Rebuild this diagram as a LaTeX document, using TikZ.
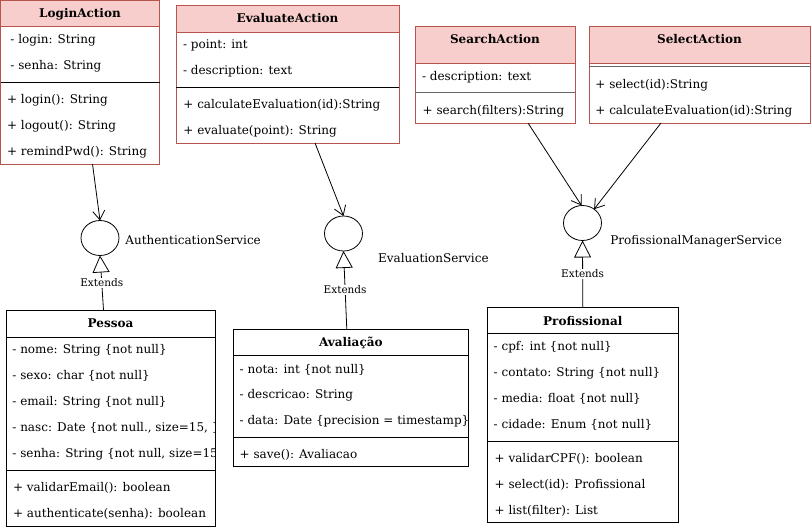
\documentclass[tikz,border=0pt]{standalone}
\usepackage{fontspec}
\setmainfont{DejaVu Serif}
\usetikzlibrary{arrows.meta,shapes.geometric}
\definecolor{headfill}{HTML}{F8CECC}
\definecolor{headline}{HTML}{B85450}
\definecolor{sepgray}{HTML}{666666}

\begin{document}
\begin{tikzpicture}[x=1pt, y=-1pt, line width=0.8pt,
    pinkclass/.style={draw=headline, fill=white, rectangle, inner sep=0pt, outer sep=0pt, anchor=north west},
    plainclass/.style={draw=black, fill=white, rectangle, inner sep=0pt, outer sep=0pt, anchor=north west},
    pinkhead/.style={draw=headline, fill=headfill, rectangle, inner sep=0pt, outer sep=0pt, anchor=north},
    plainhead/.style={draw=black, rectangle, inner sep=0pt, outer sep=0pt, anchor=north},
    title/.style={inner sep=0pt, text height=9pt, text depth=0pt, font=\fontsize{12}{14}\selectfont\bfseries},
    member/.style={anchor=west, inner sep=0pt, text height=8.5pt, text depth=0pt, font=\fontsize{12}{14}\selectfont},
    service/.style={draw, ellipse, minimum width=38pt, minimum height=35pt, inner sep=0pt, outer sep=0pt},
    svclabel/.style={anchor=west, inner sep=0pt, text height=8.5pt, text depth=0pt, font=\fontsize{12}{14}\selectfont},
    dep/.style={-{Straight Barb[length=9pt, width=12pt]}},
    ext/.style={-{Triangle[open, length=17pt, width=17pt]}},
    extlabel/.style={fill=white, inner sep=1pt, text height=7.5pt, text depth=0pt, font=\fontsize{10.5}{12}\selectfont}]
    \useasboundingbox (0,0) rectangle (811,530);

    \node[pinkclass, minimum width=159pt, minimum height=163.5pt] (login) at (0.5,0.5) {};
    \node[pinkhead, minimum width=159pt, minimum height=26pt] (loginhead) at (login.north) {};
    \node[title] (logintitle) at (80,13.3) {LoginAction};
    \draw (0.5,82) -- (159.5,82);
    \node[member] (login1) at (10,39.3) {- login: String};
    \node[member] (login2) at (10,65.3) {- senha: String};
    \node[member] (login3) at (6.7,99.3) {+ login(): String};
    \node[member] (login4) at (6.7,125.7) {+ logout(): String};
    \node[member] (login5) at (6.7,151.3) {+ remindPwd(): String};

    \node[pinkclass, minimum width=223pt, minimum height=138pt] (evaluate) at (176,5) {};
    \node[pinkhead, minimum width=223pt, minimum height=27pt] (evaluatehead) at (evaluate.north) {};
    \node[title] (evaluatetitle) at (287.5,18.3) {EvaluateAction};
    \draw (176,87.3) -- (399,87.3);
    \node[member] (evaluate1) at (182.7,44.3) {- point: int};
    \node[member] (evaluate2) at (182.7,70.7) {- description: text};
    \node[member] (evaluate3) at (183,104.7) {+ calculateEvaluation(id):String};
    \node[member] (evaluate4) at (183,130.3) {+ evaluate(point): String};

    \node[pinkclass, minimum width=160pt, minimum height=97pt] (search) at (415,26) {};
    \node[pinkhead, minimum width=160pt, minimum height=37pt] (searchhead) at (search.north) {};
    \node[title] (searchtitle) at (495,39.3) {SearchAction};
    \draw[sepgray, line width=1.2pt] (415,92.7) -- (575,92.7);
    \node[member] (search1) at (421.7,76.7) {- description: text};
    \node[member] (search2) at (422.3,110) {+ search(filters):String};

    \node[pinkclass, minimum width=221pt, minimum height=97pt] (select) at (589,26) {};
    \node[pinkhead, minimum width=221pt, minimum height=37pt] (selecthead) at (select.north) {};
    \node[title] (selecttitle) at (699.5,39.3) {SelectAction};
    \draw[sepgray, line width=1.2pt] (589,66.7) -- (810,66.7);
    \node[member] (select1) at (595,84.3) {+ select(id):String};
    \node[member] (select2) at (595,110.7) {+ calculateEvaluation(id):String};

    \node[plainclass, minimum width=209pt, minimum height=216pt] (pessoa) at (6,310) {};
    \node[plainhead, minimum width=209pt, minimum height=27pt] (pessoahead) at (pessoa.north) {};
    \node[title] (pessoatitle) at (110.5,323.3) {Pessoa};
    \draw (6,470.3) -- (215,470.3);
    \begin{scope}
        \clip (6,310) rectangle (214.5,526);
        \node[member] (pessoa1) at (12,349.3) {- nome: String \{not null\}};
        \node[member] (pessoa2) at (12,375.3) {- sexo: char \{not null\}};
        \node[member] (pessoa3) at (12,401) {- email: String \{not null\}};
        \node[member] (pessoa4) at (12,427) {- nasc: Date \{not null., size=15, \}};
        \node[member] (pessoa5) at (12,453.3) {- senha: String \{not null, size=15\}};
    \end{scope}
    \node[member] (pessoa6) at (12.7,487.7) {+ validarEmail(): boolean};
    \node[member] (pessoa7) at (12.7,513.3) {+ authenticate(senha): boolean};

    \node[plainclass, minimum width=235pt, minimum height=137.5pt] (avaliacao) at (233.3,329.3) {};
    \node[plainhead, minimum width=235pt, minimum height=26pt] (avaliacaohead) at (avaliacao.north) {};
    \node[title] (avaliacaotitle) at (350.8,342.3) {Avaliação};
    \draw (233.3,437) -- (468.3,437);
    \begin{scope}
        \clip (233.3,329.3) rectangle (467.8,466.8);
        \node[member] (avaliacao1) at (239.3,369) {- nota: int \{not null\}};
        \node[member] (avaliacao2) at (239.3,394.7) {- descricao: String};
        \node[member] (avaliacao3) at (239.3,420.3) {- data: Date \{precision = timestamp\}};
    \end{scope}
    \node[member] (avaliacao4) at (239.3,454.3) {+ save(): Avaliacao};

    \node[plainclass, minimum width=191pt, minimum height=215.5pt] (profissional) at (487.3,307.3) {};
    \node[plainhead, minimum width=191pt, minimum height=26pt] (profissionalhead) at (profissional.north) {};
    \node[title] (profissionaltitle) at (582.8,320.7) {Profissional};
    \draw (487.3,441.3) -- (678.3,441.3);
    \node[member] (profissional1) at (493.3,346) {- cpf: int \{not null\}};
    \node[member] (profissional2) at (493.3,372) {- contato: String \{not null\}};
    \node[member] (profissional3) at (493.3,398.3) {- media: float \{not null\}};
    \node[member] (profissional4) at (493.3,424.3) {- cidade: Enum \{not null\}};
    \node[member] (profissional5) at (494.3,458.3) {+ validarCPF(): boolean};
    \node[member] (profissional6) at (494.3,484.3) {+ select(id): Profissional};
    \node[member] (profissional7) at (494.3,510.7) {+ list(filter): List};

    \node[service] (auth) at (100,238) {};
    \node[svclabel] (authlabel) at (125,240.7) {AuthenticationService};
    \node[service] (evalsvc) at (343.5,233.5) {};
    \node[svclabel] (evalsvclabel) at (377.7,258.7) {EvaluationService};
    \node[service] (profsvc) at (582.5,223) {};
    \node[svclabel] (profsvclabel) at (610,240.3) {ProfissionalManagerService};

    \draw[dep] ([xshift=12.5pt]login.south) -- (auth.north);
    \draw[dep] ([xshift=27.5pt]evaluate.south) -- (evalsvc.north);
    \draw[dep] ([xshift=33pt]search.south) -- ([xshift=-1pt]profsvc.north);
    \draw[dep] ([xshift=-38.5pt]select.south) -- (profsvc.50);

    \draw[ext] ([xshift=-7pt]pessoa.north) -- node[extlabel, pos=0.5] (authext) {Extends} (auth.south);
    \draw[ext] ([xshift=-4pt]avaliacao.north) -- node[extlabel, pos=0.5] (evalsvcext) {Extends} (evalsvc.south);
    \draw[ext] (profissional.north) -- node[extlabel, pos=0.5] (profsvcext) {Extends} (profsvc.south);
\end{tikzpicture}
\end{document}
